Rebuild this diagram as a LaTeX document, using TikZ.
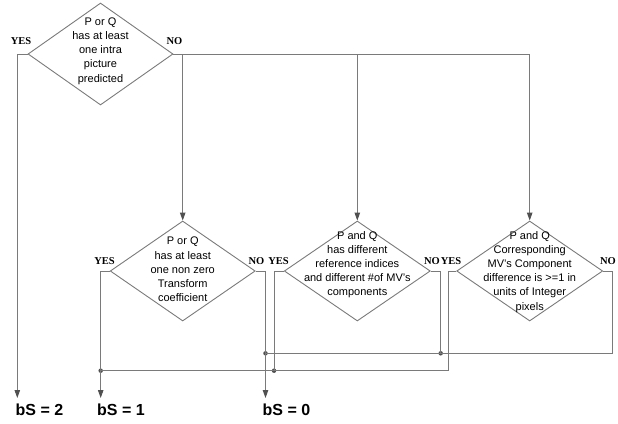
\documentclass[tikz,border=0pt]{standalone}
\usepackage{fontspec}
\setmainfont{Liberation Sans}
\newfontfamily\lblfont{Liberation Serif}
\usetikzlibrary{shapes.geometric,arrows.meta}
\definecolor{ln}{HTML}{7A7A7A}
\definecolor{dk}{HTML}{505050}
\begin{document}
\begin{tikzpicture}[x=1pt,y=-1pt,
  dec/.style={draw=ln,line width=0.9pt,diamond,inner sep=0pt,minimum width=#1,minimum height=100pt},
  txt/.style={font=\fontsize{11}{14.2}\selectfont,align=center,inner sep=0pt},
  yn/.style={font=\lblfont\bfseries\fontsize{10.5}{12}\selectfont,inner sep=0pt},
  bs/.style={font=\bfseries\fontsize{16}{18}\selectfont,inner sep=0pt,anchor=west},
  wire/.style={draw=ln,line width=0.9pt},
  arr/.style={wire,-{Triangle[length=8pt,width=5.5pt,fill=dk,color=dk]}},
  dot/.style={circle,fill=dk,inner sep=0pt,minimum size=4.5pt}]
\useasboundingbox (0,0) rectangle (618,423);
% diamonds
\node[dec=145pt,minimum height=102pt] (d1) at (100.5,54) {};
\node[dec=145pt] (d2) at (182.7,271) {};
\node[dec=146pt] (d3) at (357.3,271) {};
\node[dec=146pt] (d4) at (529.7,271) {};
% texts
\node[txt] (t1) at (100.5,51) {P or Q\\has at least\\one intra\\picture\\predicted};
\node[txt] (t2) at (182.7,269.5) {P or Q\\has at least\\one non zero\\Transform\\coefficient};
\node[txt] (t3) at (357.3,264.7) {P and Q\\has different\\reference indices\\and different \#of MV's\\components};
\node[txt] (t4) at (529.7,271.7) {P and Q\\Corresponding\\MV's Component\\difference is >=1 in\\units of Integer\\pixels};
% yes/no labels
\node[yn] (y1) at (21,41) {YES};
\node[yn] (n1) at (174.5,41) {NO};
\node[yn] (y2) at (104.5,260.7) {YES};
\node[yn] (n2) at (256.5,260.7) {NO};
\node[yn] (y3) at (278.5,260.7) {YES};
\node[yn] (n3) at (432,260.7) {NO};
\node[yn] (y4) at (451,260.7) {YES};
\node[yn] (n4) at (608,260.7) {NO};
% results
\node[bs] (b2) at (15.5,410) {bS = 2};
\node[bs] (b1) at (97,410) {bS = 1};
\node[bs] (b0) at (262.5,410) {bS = 0};
% coordinates
\coordinate (e2) at (17.3,398);
\coordinate (e1) at (100.7,398);
\coordinate (e0) at (265.5,398);
\coordinate (c1) at (17.3,54);
\coordinate (c2) at (100.7,271);
\coordinate (c3) at (265.5,271);
\coordinate (c4) at (274,271);
\coordinate (c5) at (440.7,271);
\coordinate (c6) at (448.3,271);
\coordinate (c7) at (612.7,271);
\coordinate (top) at (529.7,54);
\node[dot] (j1) at (100.7,370.7) {};
\node[dot] (j2) at (274,370.7) {};
\node[dot] (j3) at (265.5,353.3) {};
\node[dot] (j4) at (440.7,353.3) {};
\coordinate (k1) at (448.3,370.7);
\coordinate (k2) at (612.7,353.3);
% connectors from D1
\draw[arr] (d1.west) -- (c1) -- (e2);
\draw[wire] (d1.east) -- (top);
\draw[arr] (top) -- (d4.north);
\draw[arr] (d1.east -| d2.north) -- (d2.north);
\draw[arr] (d1.east -| d3.north) -- (d3.north);
% D2
\draw[arr] (d2.west) -- (c2) -- (e1);
\draw[arr] (d2.east) -- (c3) -- (e0);
% D3
\draw[wire] (d3.west) -- (c4) -- (j2.center);
\draw[wire] (d3.east) -- (c5) -- (j4.center);
% D4
\draw[wire] (d4.west) -- (c6) -- (k1) -- (j1.center);
\draw[wire] (d4.east) -- (c7) -- (k2) -- (j3.center);
\end{tikzpicture}
\end{document}
